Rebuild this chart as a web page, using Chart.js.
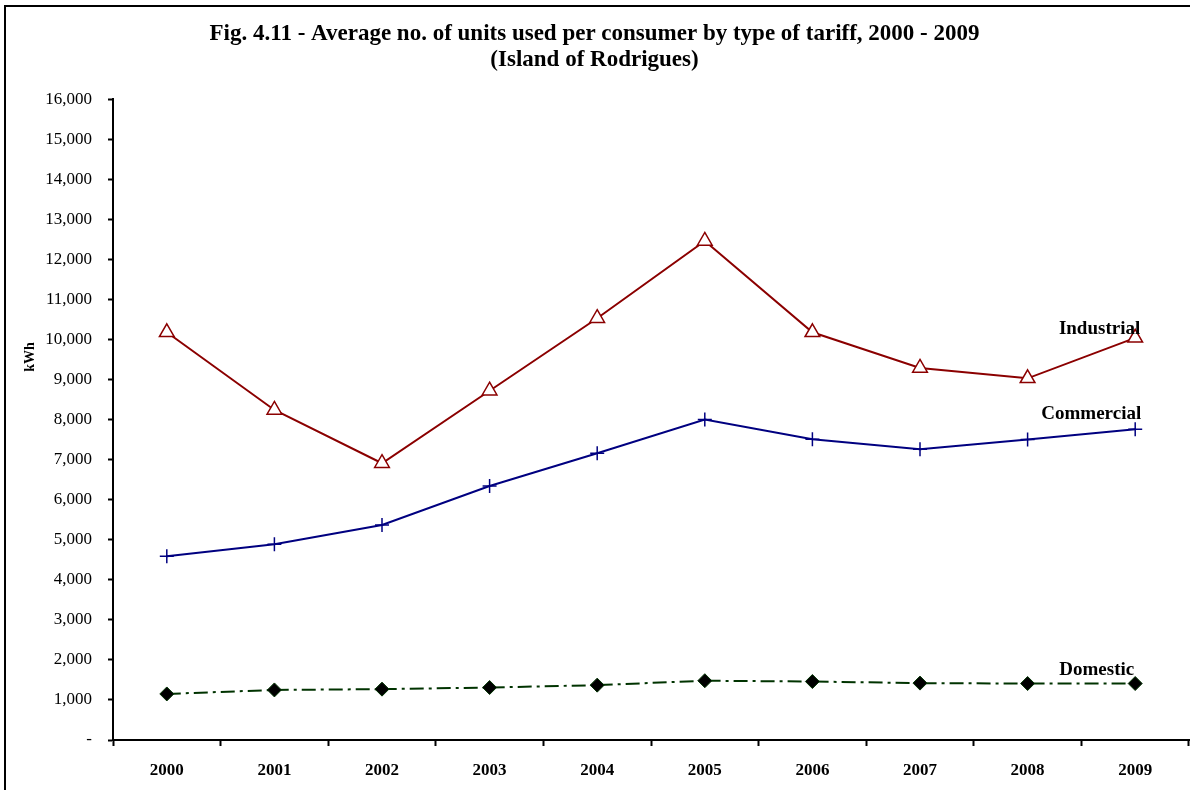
<!DOCTYPE html>
<html lang="en">
<head>
    <meta charset="UTF-8">
    <title>Average no. of units used per consumer by type of tariff</title>
    <script src="https://cdn.jsdelivr.net/npm/chart.js@4.4.1/dist/chart.umd.min.js"></script>
    <style>
        body { margin: 0; background: #fff; }
        canvas { display: block; }
    </style>
</head>
<body>
    <canvas id="myChart" width="1190" height="790"></canvas>

    <script>
        // data
        var years = ['2000', '2001', '2002', '2003', '2004', '2005', '2006', '2007', '2008', '2009'];
        var industrial = [10180, 8240, 6910, 8720, 10530, 12460, 10180, 9290, 9030, 10040];
        var commercial = [4590, 4890, 5370, 6340, 7160, 8000, 7510, 7260, 7500, 7760];
        var domestic = [1150, 1250, 1270, 1310, 1370, 1480, 1460, 1420, 1410, 1410];
        var seriesNames = ['Industrial', 'Commercial', 'Domestic'];

        var serif = "'Liberation Serif', 'Times New Roman', serif";

        // end-of-line labels next to the last point of each series
        var endLabels = {
            id: 'endLabels',
            afterDatasetsDraw: function(chart) {
                var ctx = chart.ctx;
                var xs = chart.scales.x, ys = chart.scales.y;
                var shifts = [[5, -9], [6, -15], [-1, -13]];
                ctx.save();
                ctx.fillStyle = '#000';
                ctx.font = 'bold 19px ' + serif;
                ctx.textAlign = 'right';
                ctx.textBaseline = 'middle';
                chart.data.datasets.forEach(function(ds, i) {
                    var last = ds.data.length - 1;
                    var x = xs.getPixelForValue(last) + shifts[i][0];
                    var y = ys.getPixelForValue(ds.data[last]) + shifts[i][1];
                    ctx.fillText(ds.label, x, y);
                });
                // y axis title
                ctx.translate(30, 357);
                ctx.rotate(-Math.PI / 2);
                ctx.textAlign = 'center';
                ctx.font = 'bold 14px ' + serif;
                ctx.fillText('kWh', 0, 0);
                ctx.restore();
            },
            afterDraw: function(chart) {
                // frame: top and left edges only
                var ctx = chart.ctx;
                ctx.save();
                ctx.strokeStyle = '#000';
                ctx.lineWidth = 2;
                ctx.beginPath();
                ctx.moveTo(5, 790);
                ctx.lineTo(5, 6);
                ctx.lineTo(1190, 6);
                ctx.stroke();
                ctx.restore();
            }
        };

        var ctx = document.getElementById('myChart').getContext('2d');
        var myChart = new Chart(ctx, {
            type: 'line',
            data: {
                labels: years,
                datasets: [{
                    label: seriesNames[0],
                    data: industrial,
                    borderColor: '#8b0000',
                    borderWidth: 2,
                    pointStyle: 'triangle',
                    pointRadius: 8.5,
                    pointBorderWidth: 1.5,
                    pointBorderColor: '#8b0000',
                    pointBackgroundColor: '#fff',
                    tension: 0
                }, {
                    label: seriesNames[1],
                    data: commercial,
                    borderColor: '#000080',
                    borderWidth: 2,
                    pointStyle: 'cross',
                    pointRadius: 7,
                    pointBorderWidth: 1.5,
                    pointBorderColor: '#000080',
                    tension: 0
                }, {
                    label: seriesNames[2],
                    data: domestic,
                    borderColor: '#003300',
                    borderWidth: 2,
                    borderDash: [14, 5, 3, 5],
                    pointStyle: 'rectRot',
                    pointRadius: 7,
                    pointBorderWidth: 1,
                    pointBorderColor: '#003300',
                    pointBackgroundColor: '#000',
                    tension: 0
                }]
            },
            options: {
                responsive: false,
                animation: false,
                layout: { autoPadding: false, padding: { left: 0, right: 1, top: 0, bottom: 0 } },
                plugins: {
                    legend: { display: false },
                    tooltip: { enabled: false },
                    title: {
                        display: true,
                        text: ['Fig. 4.11 - Average no. of units used per consumer by type of tariff, 2000 - 2009',
                               '(Island of Rodrigues)'],
                        color: '#000',
                        font: { family: serif, size: 23, weight: 'bold', lineHeight: 1.09 },
                        padding: { top: 22, bottom: 27 }
                    }
                },
                scales: {
                    x: {
                        offset: true,
                        grid: {
                            display: true,
                            offset: true,
                            drawOnChartArea: false,
                            drawTicks: true,
                            tickLength: 6,
                            tickWidth: 2,
                            tickColor: '#000'
                        },
                        border: { display: true, color: '#000', width: 2 },
                        ticks: {
                            color: '#000',
                            padding: 14,
                            maxRotation: 0,
                            font: { family: serif, size: 17, weight: 'bold' }
                        },
                        afterFit: function(scale) {
                            scale.height = 50;
                            scale.paddingLeft = 0;
                            scale.paddingRight = 0;
                        }
                    },
                    y: {
                        min: 0,
                        max: 16000,
                        grid: {
                            display: true,
                            drawOnChartArea: false,
                            drawTicks: true,
                            tickLength: 5,
                            tickWidth: 2,
                            tickColor: '#000'
                        },
                        border: { display: true, color: '#000', width: 2 },
                        ticks: {
                            stepSize: 1000,
                            color: '#000',
                            padding: 16,
                            font: { family: serif, size: 17 },
                            callback: function(v) {
                                return v === 0 ? '-' : v.toLocaleString('en-US');
                            }
                        },
                        afterFit: function(scale) { scale.width = 113; }
                    }
                }
            },
            plugins: [endLabels]
        });
    </script>
</body>
</html>
